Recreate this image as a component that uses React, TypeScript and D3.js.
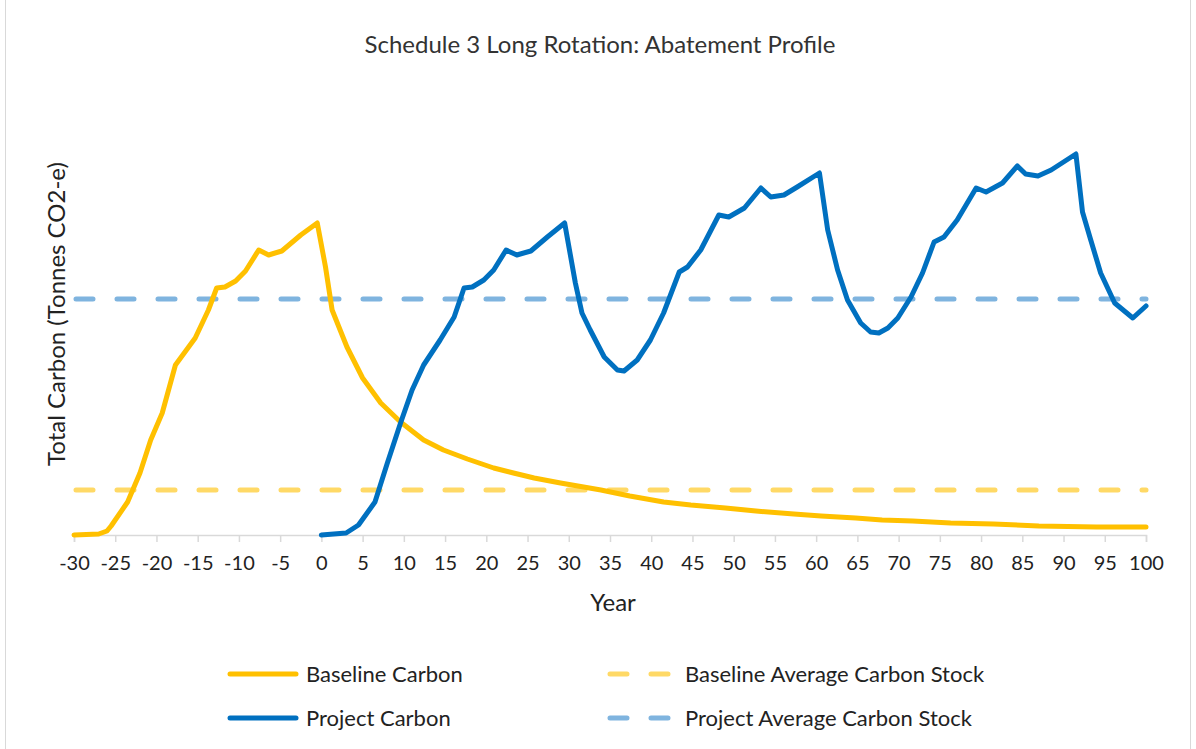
import React, { useEffect, useRef } from 'react';
import * as d3 from 'd3';

// Baseline carbon (years may be fractional)
const baselineYears = [
  -30, -27, -26, -25.5, -23.5, -22, -20.7, -19.3, -17.7, -15.3, -13.7, -12.7, -11.7, -10.4, -9.2,
  -7.6, -6.4, -4.8, -2.5, -0.5, 0.5, 1.3, 3.1, 5, 7.2, 9.6, 12.4, 14.8, 17.7, 20.9, 23.3, 25.8,
  29, 33.9, 37.4, 41.5, 44.8, 49, 52.7, 57.3, 60.6, 64.8, 68, 71.7, 76.3, 81.5, 87, 94, 100,
];
const baselineCarbon = [
  0, 1, 4, 9, 33, 62, 95, 122, 170, 197, 225, 247, 248, 254, 264,
  285, 280, 284, 300, 312, 268, 225, 188, 157, 132, 113, 95, 85, 76, 67, 62, 57,
  52, 45, 39, 33, 30, 27, 24, 21, 19, 17, 15, 14, 12, 11, 9, 8, 8,
];

// Project carbon
const projectYears = [
  0, 3, 4.5, 6.5, 8, 9.6, 11, 12.4, 14.4, 16.1, 17.3, 18.3, 19.7, 20.9, 22.4, 23.7, 25.4, 27.4, 29.5,
  30.8, 31.6, 32.6, 34.3, 35.9, 36.7, 38.3, 39.9, 41.5, 43.4, 44.4, 46, 48.2, 49.4, 51.3, 53.3, 54.5,
  56.1, 57.7, 60.4, 61.4, 62.6, 63.8, 65.4, 66.6, 67.6, 68.7, 69.9, 71.5, 72.9, 74.3, 75.5, 77.1,
  79.4, 80.6, 82.6, 84.4, 85.4, 86.9, 88.5, 91.5, 92.3, 93.3, 94.5, 96.2, 98.4, 100,
];
const projectCarbon = [
  0, 2, 10, 33, 72, 112, 145, 170, 195, 218, 247, 248, 255, 265, 285, 280, 284, 298, 312,
  252, 222, 205, 178, 165, 164, 175, 195, 222, 263, 268, 285, 320, 318, 327, 347, 338,
  340, 348, 362, 305, 265, 235, 212, 203, 202, 207, 217, 238, 262, 293, 298, 315,
  347, 343, 352, 369, 361, 359, 365, 381, 323, 295, 262, 232, 217, 229,
];

const baselineAverage = 45;
const projectAverage = 236;

const yearTicks = [-30, -25, -20, -15, -10, -5, 0, 5, 10, 15, 20, 25, 30, 35, 40, 45, 50, 55, 60, 65, 70, 75, 80, 85, 90, 95, 100];

const seriesNames = ['Baseline Carbon', 'Baseline Average Carbon Stock', 'Project Carbon', 'Project Average Carbon Stock'];

const FONT = "Lato, 'Open Sans', sans-serif";

const App = () => {
  const chartRef = useRef<SVGSVGElement>(null);

  useEffect(() => {
    const height = 749;

    const svg = d3.select(chartRef.current);
    svg.selectAll('*').remove();

    const x = d3.scaleLinear().domain([-30, 100]).range([74, 1146]);
    const y = d3.scaleLinear().domain([0, 400]).range([535, 135]);

    // chart border
    svg.append('rect')
      .attr('x', 5.5).attr('y', -2)
      .attr('width', 1185).attr('height', height + 4)
      .attr('fill', 'white').attr('stroke', '#d9d9d9');

    // title
    svg.append('text')
      .attr('x', 600).attr('y', 53)
      .attr('text-anchor', 'middle')
      .style('font-family', FONT).style('font-size', '24px').attr('fill', '#333')
      .text('Schedule 3 Long Rotation: Abatement Profile');

    // x axis
    const axis = svg.append('g')
      .attr('transform', `translate(0,${y(0)})`)
      .call(d3.axisBottom(x).tickValues(yearTicks).tickSize(7).tickPadding(14).tickFormat(d => String(d)));
    axis.select('.domain').attr('stroke', '#d9d9d9').attr('stroke-width', 1.5);
    axis.selectAll('.tick line').attr('stroke', '#d9d9d9').attr('stroke-width', 1.5);
    axis.selectAll('.tick text')
      .style('font-family', FONT).style('font-size', '20px').attr('fill', '#222');

    svg.append('text')
      .attr('x', 613).attr('y', 611)
      .attr('text-anchor', 'middle')
      .style('font-family', FONT).style('font-size', '24px').attr('fill', '#222')
      .text('Year');

    svg.append('text')
      .attr('transform', 'translate(65,314) rotate(-90)')
      .attr('text-anchor', 'middle')
      .style('font-family', FONT).style('font-size', '24px').attr('fill', '#222')
      .text('Total Carbon (Tonnes CO2-e)');

    // average lines
    const dash = '17 24';
    svg.append('line')
      .attr('x1', x(-30) + 2).attr('x2', x(100))
      .attr('y1', y(baselineAverage)).attr('y2', y(baselineAverage))
      .attr('stroke', '#ffd966').attr('stroke-width', 5)
      .attr('stroke-linecap', 'round').attr('stroke-dasharray', dash);
    svg.append('line')
      .attr('x1', x(-30) + 2).attr('x2', x(100))
      .attr('y1', y(projectAverage)).attr('y2', y(projectAverage))
      .attr('stroke', '#7fb4df').attr('stroke-width', 5)
      .attr('stroke-linecap', 'round').attr('stroke-dasharray', dash);

    const line = d3.line<[number, number]>()
      .x(d => x(d[0]))
      .y(d => y(d[1]));

    svg.append('path')
      .datum(baselineYears.map((yr, i) => [yr, baselineCarbon[i]] as [number, number]))
      .attr('d', line)
      .attr('fill', 'none').attr('stroke', '#ffc000').attr('stroke-width', 5)
      .attr('stroke-linejoin', 'round').attr('stroke-linecap', 'round');

    svg.append('path')
      .datum(projectYears.map((yr, i) => [yr, projectCarbon[i]] as [number, number]))
      .attr('d', line)
      .attr('fill', 'none').attr('stroke', '#0070c0').attr('stroke-width', 5)
      .attr('stroke-linejoin', 'round').attr('stroke-linecap', 'round');

    // legend
    const legendColors = ['#ffc000', '#ffd966', '#0070c0', '#7fb4df'];
    const legendDashed = [false, true, false, true];
    const legendX = [228, 608];
    const legendY = [674, 718];
    seriesNames.forEach((name, i) => {
      const lx = legendX[i % 2];
      const ly = legendY[Math.floor(i / 2)];
      const g = svg.append('g');
      g.append('line')
        .attr('x1', lx + 2).attr('x2', lx + 68)
        .attr('y1', ly).attr('y2', ly)
        .attr('stroke', legendColors[i]).attr('stroke-width', 5)
        .attr('stroke-linecap', 'round')
        .attr('stroke-dasharray', legendDashed[i] ? '17 24' : null);
      g.append('text')
        .attr('x', lx + (legendDashed[i] ? 77 : 78)).attr('y', ly)
        .attr('dy', '0.35em')
        .style('font-family', FONT).style('font-size', '22px').attr('fill', '#222')
        .text(name);
    });
  }, []);

  return (
    <div>
      <svg ref={chartRef} width={1196} height={749}
        style={{ position: 'absolute', left: 0, top: 0, display: 'block' }} />
    </div>
  );
};

export default App;
